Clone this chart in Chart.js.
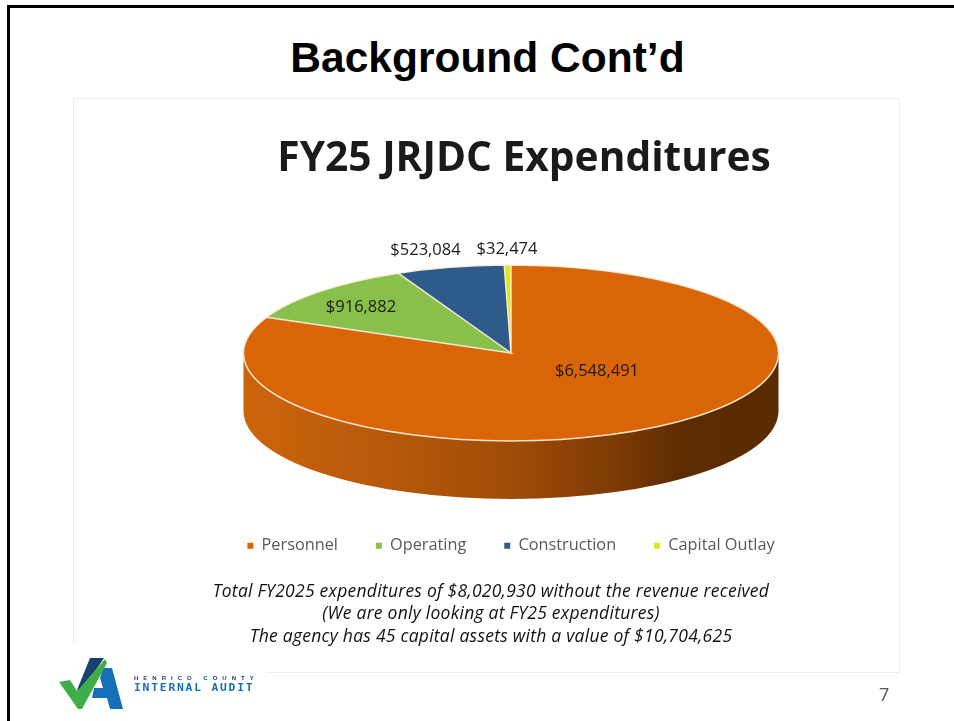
<!DOCTYPE html>
<html>
<head>
<meta charset="utf-8">
<title>FY25 JRJDC Expenditures</title>
<script src="https://cdn.jsdelivr.net/npm/chart.js@4/dist/chart.umd.min.js"></script>
<style>
  html, body { margin: 0; padding: 0; background: #fff; }
  #slide { position: relative; width: 954px; height: 721px; overflow: hidden; background: #fff; }
  #topRule { position: absolute; left: 7px; top: 5px; width: 947px; height: 2.5px; background: #000; }
  #leftRule { position: absolute; left: 7px; top: 5px; width: 3px; height: 716px; background: #000; }
  #panel { position: absolute; left: 73px; top: 98px; width: 825px; height: 573px; border: 1px solid #eeeeee; box-sizing: content-box; }
  #logoPatch { position: absolute; left: 10px; top: 643px; width: 256px; height: 78px; background: #fff; }
  #heading { position: absolute; left: 0; width: 975px; top: 34px; text-align: center; font: bold 42.5px "Liberation Sans", Arial, sans-serif; color: #000; }
  canvas { position: absolute; left: 0; top: 0; }
  .note { position: absolute; left: 0; width: 982px; text-align: center; font: italic 17.5px "Open Sans", sans-serif; letter-spacing: 0.25px; color: #111; }
  #pageNo { position: absolute; left: 879px; top: 682px; font: 18px "Open Sans", sans-serif; color: #595959; }
  #logo { position: absolute; left: 50px; top: 650px; }
  #logoTop { position: absolute; left: 134px; top: 675px; font: bold 6px "Liberation Sans", sans-serif; letter-spacing: 5px; color: #1b3f6e; white-space: nowrap; }
  #logoMain { position: absolute; left: 134px; top: 681px; font: bold 11.3px "DejaVu Sans Mono", monospace; letter-spacing: 1.8px; color: #1670b8; white-space: nowrap; }
</style>
</head>
<body>
<div id="slide">
  <div id="topRule"></div>
  <div id="leftRule"></div>
  <div id="panel"></div>
  <div id="logoPatch"></div>
  <div id="heading">Background Cont’d</div>
  <canvas id="chart" width="954" height="721"></canvas>
  <div class="note" style="top:578px">Total FY2025 expenditures of $8,020,930 without the revenue received</div>
  <div class="note" style="top:600px">(We are only looking at FY25 expenditures)</div>
  <div class="note" style="top:623px">The agency has 45 capital assets with a value of $10,704,625</div>
  <svg id="logo" width="90" height="65" viewBox="0 0 90 65">
    <polygon points="40,8 54,8 31,42 27,40" fill="#1b3f6e"/>
    <polygon points="53,18 62,18 73,59 60,59 57,48 42,48 44,38 53,38 50,28" fill="#1670b8"/>
    <polygon points="9,32 20,30 27,41 55,9 57,13 32,59 28,59" fill="#3fae49"/>
  </svg>
  <div id="logoTop">HENRICO COUNTY</div>
  <div id="logoMain">INTERNAL AUDIT</div>
  <div id="pageNo">7</div>
</div>

<script>
  const categories = ['Personnel', 'Operating', 'Construction', 'Capital Outlay'];
  const amounts = [6548491, 916882, 523084, 32474];
  const sliceColors = ['#d96507', '#88c04a', '#2f5b8a', '#dbe81c'];

  // where each amount label sits, same order as categories
  const labelSpots = [[597, 371], [361, 307], [425.5, 250], [507, 249]];

  const PIE_X = 511;
  const PIE_Y = 353;
  const RADIUS_X = 267.5;
  const RADIUS_Y = 88;
  const DEPTH = 58;

  const money = v => '$' + v.toLocaleString('en-US');

  // squash the circle into the tilted ellipse
  function tilt(ctx, arc) {
    ctx.translate(PIE_X, PIE_Y);
    ctx.scale(1, RADIUS_Y / RADIUS_X);
    ctx.translate(-arc.x, -arc.y);
  }

  function rimGradient(ctx) {
    const g = ctx.createLinearGradient(PIE_X - RADIUS_X, 0, PIE_X + RADIUS_X, 0);
    g.addColorStop(0, '#cd640c');
    g.addColorStop(0.25, '#b85a0a');
    g.addColorStop(0.5, '#a04c07');
    g.addColorStop(0.7, '#7c3a04');
    g.addColorStop(0.82, '#5c2c00');
    g.addColorStop(1, '#5a2b00');
    return g;
  }

  const tiltedPie = {
    id: 'tiltedPie',
    afterLayout(chart) {
      // the heading sits a little right of the pie centre
      chart.titleBlock.left += 13;
      chart.titleBlock.right += 13;
    },
    beforeDatasetsDraw(chart) {
      const ctx = chart.ctx;
      const arcs = chart.getDatasetMeta(0).data;

      // side wall, only the part of each slice that faces the viewer
      arcs.forEach(arc => {
        const from = Math.max(arc.startAngle, 0);
        const to = Math.min(arc.endAngle, Math.PI);
        if (to <= from) return;
        ctx.save();
        ctx.beginPath();
        ctx.ellipse(PIE_X, PIE_Y, RADIUS_X, RADIUS_Y, 0, from, to);
        ctx.ellipse(PIE_X, PIE_Y + DEPTH, RADIUS_X, RADIUS_Y, 0, to, from, true);
        ctx.closePath();
        ctx.fillStyle = rimGradient(ctx);
        ctx.fill();
        ctx.restore();
      });

      ctx.save();
      tilt(ctx, arcs[0]);
    },
    afterDatasetsDraw(chart) {
      const ctx = chart.ctx;
      ctx.restore();

      // seams get built under the tilt but stroked without it, so the width stays even
      const arcs = chart.getDatasetMeta(0).data;
      ctx.save();
      ctx.beginPath();
      ctx.save();
      tilt(ctx, arcs[0]);
      arcs.forEach(arc => {
        ctx.moveTo(arc.x, arc.y);
        ctx.arc(arc.x, arc.y, arc.outerRadius, arc.startAngle, arc.endAngle);
        ctx.closePath();
      });
      ctx.restore();
      ctx.strokeStyle = 'rgba(255, 240, 222, 0.9)';
      ctx.lineWidth = 1.5;
      ctx.stroke();
      ctx.restore();

      ctx.save();
      ctx.font = '16.5px "Open Sans", sans-serif';
      ctx.fillStyle = '#1c1c1c';
      ctx.textAlign = 'center';
      ctx.textBaseline = 'middle';
      amounts.forEach((v, i) => {
        ctx.fillText(money(v), labelSpots[i][0], labelSpots[i][1]);
      });
      ctx.restore();
    }
  };

  new Chart(document.getElementById('chart'), {
    type: 'pie',
    data: {
      labels: categories,
      datasets: [{
        data: amounts,
        backgroundColor: sliceColors,
        borderWidth: 0,
        radius: RADIUS_X,
        clip: false
      }]
    },
    options: {
      responsive: false,
      animation: false,
      layout: { padding: { left: 68, right: 0, top: 0, bottom: 157 } },
      plugins: {
        title: {
          display: true,
          text: 'FY25 JRJDC Expenditures',
          color: '#1a1a1a',
          font: { family: '"Open Sans", sans-serif', size: 40.7, weight: 'bold' },
          padding: { top: 134.5, bottom: 0 }
        },
        legend: {
          position: 'bottom',
          labels: {
            boxWidth: 6,
            boxHeight: 6,
            padding: 38,
            color: '#595959',
            font: { family: '"Open Sans", sans-serif', size: 16.3 }
          }
        },
        tooltip: { enabled: false }
      }
    },
    plugins: [tiltedPie]
  });
</script>
</body>
</html>
